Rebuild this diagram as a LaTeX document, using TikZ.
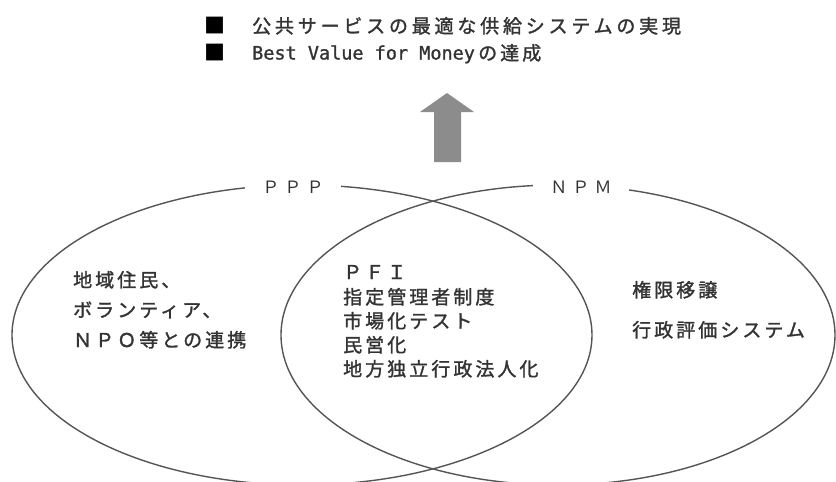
\documentclass[tikz,border=0pt]{standalone}
\usepackage{fontspec}
\usetikzlibrary{shapes.geometric}
\newfontfamily\jp[LetterSpace=16, FakeBold=1.5]{Noto Sans CJK JP}
\newfontfamily\jpwide[LetterSpace=20, FakeBold=1.5]{Noto Sans CJK JP}
\newfontfamily\jptag[LetterSpace=30]{Noto Sans CJK JP}
\newfontfamily\jpmono[FakeBold=1.2]{DejaVu Sans Mono}
\definecolor{txt}{HTML}{333333}
\definecolor{linec}{HTML}{555555}
\definecolor{arrowc}{HTML}{8C8C8C}
\begin{document}
\begin{tikzpicture}[x=1pt,y=-1pt,
  lbl/.style={anchor=base west, inner sep=0pt, text=txt, font=\jp\fontsize{19}{20}\selectfont},
  setc/.style={draw=linec, line width=1.4pt, ellipse, inner sep=0pt},
  tag/.style={fill=white, inner xsep=17pt, inner ysep=2pt, text=txt, font=\jptag\fontsize{17}{20}\selectfont},
  bullet/.style={inner sep=0pt, text=black, font=\jptag\fontsize{21}{20}\selectfont}]
\useasboundingbox[fill=white] (0,0) rectangle (836,482);
% sets
\node[setc, minimum width=580pt, minimum height=300pt] (ppp) at (302,335) {};
\node[setc, minimum width=554pt, minimum height=300pt] (npm) at (558,335) {};
\node[tag] (ppplabel) at (293,187) {ＰＰＰ};
\node[tag] (npmlabel) at (581,187) {ＮＰＭ};
% arrow
\fill[arrowc] (434,162) -- (434,112) -- (420,112) -- (447,93) -- (474,112) -- (461,112) -- (461,162) -- cycle;
% goals
\node[bullet] (b1) at (215,26) {■};
\node[bullet] (b2) at (215,53) {■};
\node[lbl, font=\jpwide\fontsize{19}{20}\selectfont] (goal1) at (252,33) {公共サービスの最適な供給システムの実現};
\node[lbl, font=\jpmono\fontsize{18.5}{20}\selectfont] (goal2a) at (252,59.5) {Best Value for Money};
\node[lbl] (goal2b) at (478,60) {の達成};
% left
\node[lbl] (l1) at (73,287) {地域住民、};
\node[lbl] (l2) at (73,317) {ボランティア、};
\node[lbl] (l3) at (73,347) {ＮＰＯ等との連携};
% middle
\node[lbl] (m1) at (343,279) {ＰＦＩ};
\node[lbl] (m2) at (343,304) {指定管理者制度};
\node[lbl] (m3) at (343,328) {市場化テスト};
\node[lbl] (m4) at (343,352) {民営化};
\node[lbl] (m5) at (343,376) {地方独立行政法人化};
% right
\node[lbl] (r1) at (632,297) {権限移譲};
\node[lbl] (r2) at (632,337) {行政評価システム};
\end{tikzpicture}
\end{document}
